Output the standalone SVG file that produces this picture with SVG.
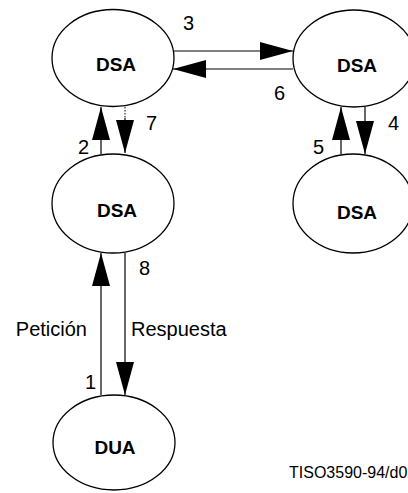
<svg xmlns="http://www.w3.org/2000/svg" width="408" height="493" viewBox="0 0 408 493">
<style>
.node{fill:#fff;stroke:#000;stroke-width:1.3}
.lbl{font-family:"Liberation Sans",Arial,sans-serif;font-size:20px;fill:#000}
.name{font-family:"Liberation Sans",Arial,sans-serif;font-size:19px;font-weight:bold;fill:#000;text-anchor:middle}
.conn{stroke:#000;stroke-width:1.2;fill:none}
.dot{stroke:#000;stroke-width:1;stroke-dasharray:1.5 1.5;fill:none}
</style>
<defs>
<marker id="ah" markerUnits="userSpaceOnUse" markerWidth="34" markerHeight="20" refX="33" refY="9" orient="auto">
<polygon points="0,0 33,9 0,18" fill="#000"/>
</marker>
</defs>
<rect width="408" height="493" fill="#fff"/>
<g id="connectors">
<line class="conn" x1="174" y1="51" x2="293" y2="51" marker-end="url(#ah)"/>
<line class="conn" x1="293" y1="69" x2="173" y2="69" marker-end="url(#ah)"/>
<line class="conn" x1="101" y1="154" x2="101" y2="107" marker-end="url(#ah)"/>
<line class="dot" x1="125" y1="107" x2="125" y2="118"/>
<line class="conn" x1="125" y1="118" x2="125" y2="153" marker-end="url(#ah)"/>
<line class="conn" x1="341" y1="154" x2="341" y2="107" marker-end="url(#ah)"/>
<line class="conn" x1="365" y1="107" x2="365" y2="154" marker-end="url(#ah)"/>
<line class="conn" x1="101" y1="395" x2="101" y2="253" marker-end="url(#ah)"/>
<line class="conn" x1="125" y1="253" x2="125" y2="395" marker-end="url(#ah)"/>
<text class="lbl" x="183" y="30">3</text>
<text class="lbl" x="274" y="100">6</text>
<text class="lbl" x="78" y="154">2</text>
<text class="lbl" x="146" y="130">7</text>
<text class="lbl" x="313" y="154">5</text>
<text class="lbl" x="388" y="130">4</text>
<text class="lbl" x="139" y="275">8</text>
<text class="lbl" x="85" y="389">1</text>
<text class="lbl" x="87" y="336" text-anchor="end">Petición</text>
<text class="lbl" x="131" y="336">Respuesta</text>
</g>
<g id="dsa1">
<ellipse class="node" cx="113" cy="58" rx="61" ry="48.5"/>
<text class="name" x="116" y="71">DSA</text>
</g>
<g id="dsa2">
<ellipse class="node" cx="354" cy="58.5" rx="61" ry="48.5"/>
<text class="name" x="357" y="72">DSA</text>
</g>
<g id="dsa3">
<ellipse class="node" cx="113" cy="203.5" rx="61" ry="49.5"/>
<text class="name" x="117" y="217">DSA</text>
</g>
<g id="dsa4">
<ellipse class="node" cx="353" cy="203.5" rx="60" ry="49.5"/>
<text class="name" x="357" y="219">DSA</text>
</g>
<g id="dua">
<ellipse class="node" cx="114" cy="442.5" rx="61" ry="47.5"/>
<text class="name" x="115" y="454">DUA</text>
</g>
<text x="289" y="478" font-family="Liberation Sans, Arial, sans-serif" font-size="16" fill="#000">TISO3590-94/d02</text>
</svg>
